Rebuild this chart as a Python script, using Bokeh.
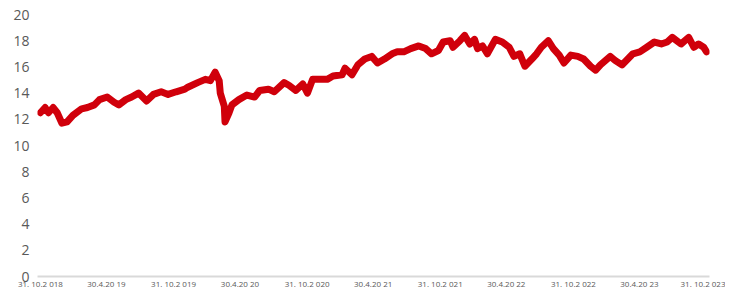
import pandas as pd
from bokeh.plotting import figure
from bokeh.models import FixedTicker, Range1d
from bokeh.embed import file_html
from bokeh.resources import INLINE

dates = [
    "2018-10-31", "2018-11-13", "2018-11-22", "2018-12-05", "2018-12-16", "2018-12-29",
    "2019-01-12", "2019-01-28", "2019-02-21", "2019-03-09", "2019-03-28", "2019-04-11",
    "2019-05-02", "2019-05-21", "2019-06-03", "2019-06-22", "2019-07-08", "2019-07-27",
    "2019-08-18", "2019-09-06", "2019-09-27", "2019-10-16", "2019-11-07", "2019-12-01",
    "2019-12-09", "2020-01-05", "2020-01-26", "2020-02-09", "2020-02-22", "2020-03-04",
    "2020-03-07", "2020-03-18", "2020-03-20", "2020-03-31", "2020-04-08", "2020-04-27",
    "2020-05-19", "2020-06-09", "2020-06-23", "2020-07-17", "2020-08-02", "2020-08-29",
    "2020-09-11", "2020-09-30", "2020-10-19", "2020-11-01", "2020-11-15", "2020-12-01",
    "2020-12-25", "2021-01-10", "2021-02-04", "2021-02-12", "2021-03-03", "2021-03-19",
    "2021-04-07", "2021-04-26", "2021-05-12", "2021-05-31", "2021-06-21", "2021-07-05",
    "2021-07-23", "2021-08-11", "2021-09-02", "2021-09-21", "2021-10-07", "2021-10-26",
    "2021-11-08", "2021-11-27", "2021-12-05", "2021-12-24", "2022-01-06", "2022-01-20",
    "2022-02-02", "2022-02-10", "2022-02-24", "2022-03-09", "2022-03-31", "2022-04-19",
    "2022-05-08", "2022-05-21", "2022-06-06", "2022-06-20", "2022-07-09", "2022-07-22",
    "2022-08-04", "2022-08-23", "2022-09-06", "2022-09-22", "2022-10-05", "2022-10-24",
    "2022-11-12", "2022-11-28", "2022-12-17", "2022-12-31", "2023-01-13", "2023-02-09",
    "2023-02-22", "2023-03-13", "2023-03-29", "2023-04-12", "2023-05-01", "2023-05-20",
    "2023-06-10", "2023-06-29", "2023-07-15", "2023-07-29", "2023-08-22", "2023-09-12",
    "2023-09-26", "2023-10-09", "2023-10-23", "2023-10-31",
]

values = [
    12.5, 12.9, 12.5, 12.9, 12.5, 11.7,
    11.8, 12.3, 12.8, 12.9, 13.1, 13.5,
    13.7, 13.3, 13.1, 13.5, 13.7, 14.0,
    13.4, 13.9, 14.1, 13.9, 14.1, 14.3,
    14.45, 14.8, 15.05, 14.95, 15.6, 14.95,
    14.0, 13.0, 11.8, 12.5, 13.1, 13.5,
    13.85, 13.7, 14.2, 14.3, 14.1, 14.8,
    14.6, 14.2, 14.7, 14.0, 15.05, 15.05,
    15.05, 15.3, 15.4, 15.9, 15.4, 16.15,
    16.6, 16.8, 16.3, 16.6, 17.0, 17.15,
    17.15, 17.4, 17.6, 17.4, 17.0, 17.25,
    17.9, 18.0, 17.5, 18.0, 18.4, 17.75,
    18.1, 17.4, 17.6, 17.0, 18.1, 17.9,
    17.5, 16.8, 17.0, 16.05, 16.6, 17.0,
    17.5, 18.0, 17.4, 16.9, 16.3, 16.9,
    16.8, 16.6, 16.05, 15.75, 16.15, 16.8,
    16.5, 16.15, 16.6, 17.0, 17.15, 17.5,
    17.9, 17.75, 17.9, 18.25, 17.75, 18.25,
    17.5, 17.75, 17.5, 17.15,
]

tick_dates = [
    "2018-10-31", "2019-04-30", "2019-10-31", "2020-04-30", "2020-10-31", "2021-04-30",
    "2021-10-31", "2022-04-30", "2022-10-31", "2023-04-30", "2023-10-31",
]
tick_labels = [
    "31. 10.2 018", "30.4.20 19", "31. 10.2 019", "30.4.20 20", "31. 10.2 020", "30.4.20 21",
    "31. 10.2 021", "30.4.20 22", "31. 10.2 022", "30.4.20 23", "31. 10.2 023",
]
y_ticks = [0, 2, 4, 6, 8, 10, 12, 14, 16, 18, 20]

x = pd.to_datetime(dates)
tick_ms = [pd.Timestamp(d).value / 1e6 for d in tick_dates]

start = pd.Timestamp("2018-10-31") - pd.Timedelta(days=8)
end = pd.Timestamp("2023-10-31") + pd.Timedelta(days=8)

p = figure(width=725, height=291, x_axis_type="datetime",
           x_range=Range1d(start, end), y_range=Range1d(0, 20),
           output_backend="svg", toolbar_location=None,
           min_border_left=37, min_border_right=16, min_border_top=14, min_border_bottom=0)
p.outline_line_color = None
p.grid.visible = False
p.background_fill_color = "white"
p.border_fill_color = "white"

p.line(x, values, line_color="#d0000b", line_width=7, line_join="round", line_cap="round")

xa = p.xaxis[0]
xa.ticker = FixedTicker(ticks=tick_ms)
xa.major_label_overrides = {t: l for t, l in zip(tick_ms, tick_labels)}
xa.axis_line_color = "#d9d9d9"
xa.axis_line_width = 2
xa.major_tick_line_color = None
xa.minor_tick_line_color = None
xa.major_tick_out = 0
xa.major_tick_in = 0
xa.minor_tick_out = 0
xa.major_label_text_font = "Open Sans"
xa.major_label_text_font_size = "8px"
xa.major_label_text_color = "#595959"
xa.major_label_standoff = 1

ya = p.yaxis[0]
ya.ticker = FixedTicker(ticks=y_ticks)
ya.axis_line_color = None
ya.major_tick_line_color = None
ya.minor_tick_line_color = None
ya.major_tick_out = 0
ya.major_tick_in = 0
ya.minor_tick_out = 0
ya.major_label_text_font = "Open Sans"
ya.major_label_text_font_size = "14px"
ya.major_label_text_color = "#595959"
ya.major_label_standoff = 8

open("out.html", "w").write(file_html(p, INLINE))
